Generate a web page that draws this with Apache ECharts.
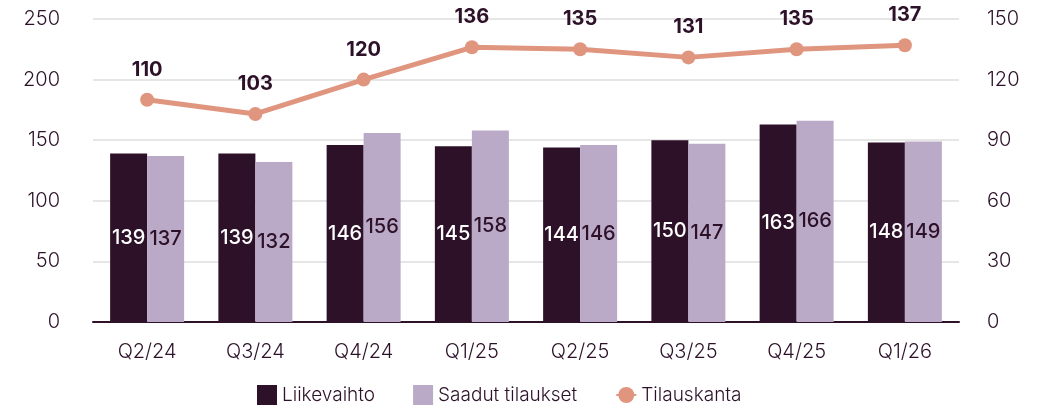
<!DOCTYPE html>
<html>
<head>
<meta charset="utf-8">
<script src="https://cdn.jsdelivr.net/npm/echarts@6/dist/echarts.min.js"></script>
<style>
  html, body { margin: 0; padding: 0; background: #fff; }
  #chart { width: 1042px; height: 411px; }
</style>
</head>
<body>
<div id="chart"></div>
<script>
var quarters = ['Q2/24', 'Q3/24', 'Q4/24', 'Q1/25', 'Q2/25', 'Q3/25', 'Q4/25', 'Q1/26'];
var liikevaihto = [139, 139, 146, 145, 144, 150, 163, 148];
var saadutTilaukset = [137, 132, 156, 158, 146, 147, 166, 149];
var tilauskanta = [110, 103, 120, 136, 135, 131, 135, 137];

var dark = '#2c1129';
var lilac = '#bbaac7';
var salmon = '#e0957f';
var font = 'Inter';

var myChart = echarts.init(document.getElementById('chart'));
var option = {
    animation: false,
    textStyle: { fontFamily: font },
    grid: { left: 93, right: 83, top: 19, bottom: 89 },
    legend: {
        bottom: 1,
        left: 252,
        itemWidth: 20,
        itemHeight: 20,
        itemGap: 38,
        textStyle: { color: dark, fontSize: 19, fontFamily: font, fontWeight: 300 },
        data: [
            { name: 'Liikevaihto', icon: 'rect' },
            { name: 'Saadut tilaukset', icon: 'rect' },
            { name: 'Tilauskanta' }
        ]
    },
    xAxis: {
        type: 'category',
        data: quarters,
        axisTick: { show: false },
        axisLine: { lineStyle: { color: dark, width: 2 } },
        axisLabel: { color: dark, fontSize: 20, fontWeight: 300, margin: 20 }
    },
    yAxis: [
        {
            type: 'value',
            min: 0, max: 250, interval: 50,
            axisLabel: { color: dark, fontSize: 20, fontWeight: 300, margin: 33 },
            splitLine: { lineStyle: { color: '#e6e6e6', width: 2 } }
        },
        {
            type: 'value',
            min: 0, max: 150, interval: 30,
            position: 'right',
            axisLabel: { color: dark, fontSize: 20, fontWeight: 300, margin: 28 },
            splitLine: { show: false }
        }
    ],
    series: [
        {
            name: 'Liikevaihto',
            type: 'bar',
            data: liikevaihto,
            barWidth: 37,
            barGap: '0%',
            itemStyle: { color: dark },
            label: { show: true, position: 'inside', color: '#fff', fontSize: 20, fontWeight: 500 }
        },
        {
            name: 'Saadut tilaukset',
            type: 'bar',
            data: saadutTilaukset,
            barWidth: 37,
            itemStyle: { color: lilac },
            label: { show: true, position: 'inside', color: dark, fontSize: 20, fontWeight: 500 }
        },
        {
            name: 'Tilauskanta',
            type: 'line',
            yAxisIndex: 1,
            data: tilauskanta,
            symbol: 'circle',
            symbolSize: 14,
            lineStyle: { color: salmon, width: 5 },
            itemStyle: { color: salmon },
            label: { show: true, position: 'top', distance: 13, color: dark, fontSize: 20, fontWeight: 'bold' }
        }
    ]
};
myChart.setOption(option);
</script>
</body>
</html>
